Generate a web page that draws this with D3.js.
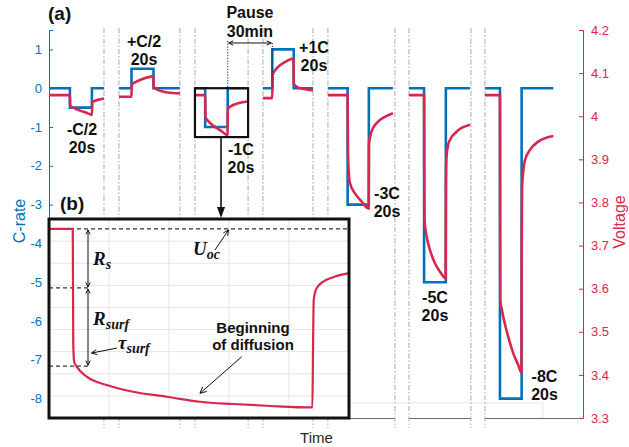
<!DOCTYPE html>
<html>
<head>
<meta charset="utf-8">
<script src="https://cdn.jsdelivr.net/npm/d3@7"></script>
<style>
  body { margin: 0; background: #fff; }
  svg { font-family: "Liberation Sans", Arial, sans-serif; }
</style>
</head>
<body>
<svg id="chart" width="629" height="447"></svg>
<script>
// ---- values ----
const cTicks = [1, 0, -1, -2, -3, -4, -5, -6, -7, -8]
const vTicks = [3.3, 3.4, 3.5, 3.6, 3.7, 3.8, 3.9, 4.0, 4.1, 4.2]

// time (s) on a broken axis, each gap is a 30 min pause
const segStart   = [0, 63.6, 132.7, 194.5, 253.6, 327.3, 396.4]
const pulseStart = [19, 75, 142, 203, 271.5, 341, 410]
const pulseEnd   = [39, 95, 162.5, 222.5, 290.8, 360.8, 429.7]
const segEnd     = [50, 119, 181, 240, 312.7, 382.7, 458.5]
const cRate      = [-0.5, 0.5, -1, 1, -3, -5, -8]
const pulseNames = ['-C/2', '+C/2', '-1C', '+1C', '-3C', '-5C', '-8C']
const breaks = [[50, 63.6], [119, 132.7], [181, 194.5], [240, 253.6], [314.5, 327.3], [383.6, 396.4]]

// voltage response per pulse
const voltTime = [
  [0, 19, 19.3, 22, 28, 34, 39, 39.3, 42, 46, 50],
  [63.6, 75, 75.3, 80, 87, 95, 95.3, 100, 108, 119],
  [132.7, 142, 142.3, 145, 150, 156, 162.3, 162.6, 166, 172, 181],
  [194.5, 203, 203.3, 206, 211, 216, 222.3, 222.6, 226, 232, 240],
  [253.6, 271.5, 271.8, 272.3, 273.6, 278.2, 284.3, 290.6, 290.9, 292.2, 294.5, 299, 305, 312.7],
  [327.3, 341, 341.15, 341.4, 343.4, 346.4, 350.9, 355.5, 360.6, 360.9, 361.4, 362.6, 364.5, 370.6, 382.7],
  [396.4, 410, 410.15, 410.3, 411.8, 413, 417.5, 422.1, 426.6, 429.5, 429.8, 430.1, 432.7, 437.3, 444.8, 458.5]
]
const voltValue = [
  [4.049, 4.049, 4.024, 4.020, 4.013, 4.008, 4.003, 4.032, 4.036, 4.039, 4.041],
  [4.045, 4.045, 4.073, 4.081, 4.088, 4.093, 4.067, 4.060, 4.055, 4.053],
  [4.049, 4.049, 3.998, 3.988, 3.977, 3.967, 3.956, 4.016, 4.024, 4.030, 4.034],
  [4.042, 4.042, 4.096, 4.108, 4.120, 4.128, 4.134, 4.075, 4.067, 4.063, 4.060],
  [4.049, 4.049, 3.93, 3.880, 3.845, 3.821, 3.802, 3.786, 3.935, 3.955, 3.972, 3.987, 3.998, 4.007],
  [4.049, 4.049, 3.90, 3.759, 3.7206, 3.6897, 3.6588, 3.6393, 3.624, 3.85, 3.905, 3.930, 3.945, 3.964, 3.980],
  [4.049, 4.049, 3.80, 3.574, 3.5505, 3.535, 3.4886, 3.450, 3.423, 3.405, 3.70, 3.836, 3.898, 3.922, 3.941, 3.954]
]

// inset (b): zoom on the -1C pulse
const insetTime = [0, 1.98, 2.02, 2.1, 2.31, 3.14, 4.81, 7.0, 9.81, 12.58, 15.33, 18.14, 21.95, 22.0, 22.06, 22.3, 22.86, 23.69, 25]
const insetVolt = [4.049, 4.049, 3.990, 3.9795, 3.9771, 3.9719, 3.9675, 3.9640, 3.9614, 3.9588, 3.9576, 3.9567, 3.9558, 3.985, 4.012, 4.018, 4.0215, 4.0238, 4.0259]
const uOc = 4.049, rsLevel = 4.0182, rsurfLevel = 3.9774

const blue = '#0072BD', red = '#D9264D'

const svg = d3.select('#chart')

const x = d3.scaleLinear().domain([0, 485.5]).range([49, 583])
const yC = d3.scaleLinear().domain([-8.5, 1.5]).range([418, 30])
const yV = d3.scaleLinear().domain([3.3, 4.2]).range([418, 30])

// faint leftover frame line
svg.append('path')
  .attr('d', `M${x(0)},${yC(-8.11)}H${x(449)}V${yC(-8.5)}`)
  .attr('fill', 'none').attr('stroke', '#e6e6e6').attr('stroke-width', 1)

// bottom axis pieces between the breaks
const pieces = []
let from = 0
breaks.forEach(b => { pieces.push([from, b[0]]); from = b[1] })
pieces.push([from, 485.5])
svg.append('g').selectAll('line').data(pieces).enter().append('line')
  .attr('x1', d => x(d[0])).attr('x2', d => x(d[1]))
  .attr('y1', 418.5).attr('y2', 418.5)
  .attr('stroke', '#6a6a6a').attr('stroke-width', 1.2)

// break markers
svg.append('g').selectAll('line').data(breaks.flat()).enter().append('line')
  .attr('x1', d => x(d)).attr('x2', d => x(d))
  .attr('y1', 28).attr('y2', 428)
  .attr('stroke', '#a8a8a8').attr('stroke-width', 1)
  .attr('stroke-dasharray', '5,2,1.5,2')

// axes
const leftAxis = svg.append('g').attr('transform', 'translate(49,0)')
  .call(d3.axisLeft(yC).tickValues(cTicks).tickSize(-4).tickPadding(7).tickFormat(d => String(d)))
leftAxis.select('.domain').attr('stroke', blue)
leftAxis.selectAll('.tick line').attr('stroke', blue)
leftAxis.selectAll('.tick text').attr('fill', blue).attr('font-size', 13)
  .attr('font-family', '"Liberation Sans", Arial, sans-serif')

const rightAxis = svg.append('g').attr('transform', 'translate(583,0)')
  .call(d3.axisRight(yV).tickValues(vTicks).tickSize(-4).tickPadding(8).tickFormat(d => String(+d.toFixed(1))))
rightAxis.select('.domain').attr('stroke', red)
rightAxis.selectAll('.tick line').attr('stroke', red)
rightAxis.selectAll('.tick text').attr('fill', red).attr('font-size', 13)
  .attr('font-family', '"Liberation Sans", Arial, sans-serif')

svg.append('text').attr('transform', 'translate(25,221) rotate(-90)')
  .attr('text-anchor', 'middle').attr('fill', blue).attr('font-size', 16).text('C-rate')
svg.append('text').attr('transform', 'translate(625,222) rotate(-90)')
  .attr('text-anchor', 'middle').attr('fill', red).attr('font-size', 16).text('Voltage')
svg.append('text').attr('x', 316.5).attr('y', 443)
  .attr('text-anchor', 'middle').attr('fill', '#262626').attr('font-size', 15).text('Time')

// C-rate steps
const cLine = d3.line().x(d => x(d[0])).y(d => yC(d[1])).curve(d3.curveStepAfter)
const cData = cRate.map((c, i) => [[segStart[i], 0], [pulseStart[i], c], [pulseEnd[i], 0], [segEnd[i], 0]])
svg.append('g').selectAll('path').data(cData).enter().append('path')
  .attr('d', cLine).attr('fill', 'none').attr('stroke', blue).attr('stroke-width', 2.6)

// voltage
const vLine = d3.line().x(d => x(d[0])).y(d => yV(d[1])).curve(d3.curveMonotoneX)
const vData = voltTime.map((ts, i) => ts.map((t, j) => [t, voltValue[i][j]]))
svg.append('g').selectAll('path').data(vData).enter().append('path')
  .attr('d', vLine).attr('fill', 'none').attr('stroke', red).attr('stroke-width', 2.6)

// arrow helpers
function openHead(g, x1, y1, x2, y2, len, w) {
  const a = Math.atan2(y2 - y1, x2 - x1), s = 0.45
  g.append('path')
    .attr('d', `M${x2 - len * Math.cos(a - s)},${y2 - len * Math.sin(a - s)}L${x2},${y2}L${x2 - len * Math.cos(a + s)},${y2 - len * Math.sin(a + s)}`)
    .attr('fill', 'none').attr('stroke', '#111').attr('stroke-width', w)
}
function arrow(x1, y1, x2, y2, both, w = 1, len = 6) {
  const g = svg.append('g')
  g.append('line').attr('x1', x1).attr('y1', y1).attr('x2', x2).attr('y2', y2)
    .attr('stroke', '#111').attr('stroke-width', w)
  openHead(g, x1, y1, x2, y2, len, w)
  if (both) openHead(g, x2, y2, x1, y1, len, w)
}

// labels of each pulse
const labelT = [30, 86.4, 174.5, 240.9, 307.3, 350.9, 450.5]
const labelC = [-1.2, 1.07, -1.72, 0.9, -2.86, -5.54, -7.56]
pulseNames.forEach((name, i) => {
  const t = svg.append('text').attr('text-anchor', 'middle').attr('font-weight', 'bold')
    .attr('font-size', 16).attr('fill', '#111')
  t.append('tspan').attr('x', x(labelT[i])).attr('y', yC(labelC[i])).text(name)
  t.append('tspan').attr('x', x(labelT[i])).attr('dy', 18).text('20s')
})

// pause marker
svg.append('g').selectAll('line').data([[pulseEnd[2], 1.22], [pulseStart[3], 1.165]]).enter().append('line')
  .attr('x1', d => x(d[0])).attr('x2', d => x(d[0]))
  .attr('y1', d => yC(d[1])).attr('y2', yC(0))
  .attr('stroke', '#222').attr('stroke-width', 1).attr('stroke-dasharray', '1.2,1.6')
arrow(x(pulseEnd[2]) + 1, yC(1.165), x(pulseStart[3]) - 1, yC(1.165), true, 1, 5)
const pause = svg.append('text').attr('text-anchor', 'middle').attr('font-weight', 'bold')
  .attr('font-size', 16).attr('fill', '#111')
pause.append('tspan').attr('x', x(182.7)).attr('y', 18).text('Pause')
pause.append('tspan').attr('x', x(182.7)).attr('y', 36.5).text('30min')

svg.append('text').attr('x', 48).attr('y', 20).attr('font-weight', 'bold')
  .attr('font-size', 19).attr('fill', '#111').text('(a)')

// zoom box on the -1C pulse and arrow to the inset
svg.append('rect')
  .attr('x', x(segStart[2])).attr('y', yC(0))
  .attr('width', x(segEnd[2]) - x(segStart[2])).attr('height', yC(-1.26) - yC(0))
  .attr('fill', 'none').attr('stroke', '#111').attr('stroke-width', 2.2)
const ax = x(156.4)
svg.append('line').attr('x1', ax).attr('x2', ax).attr('y1', yC(-1.26)).attr('y2', 210)
  .attr('stroke', '#111').attr('stroke-width', 1.6)
svg.append('path').attr('d', `M${ax - 4},207L${ax + 4},207L${ax},218Z`).attr('fill', '#111')

// ---- inset (b) ----
const xi = d3.scaleLinear().domain([0, 25]).range([49, 349])
const yi = d3.scaleLinear().domain([3.9503, 4.0542]).range([418, 219])
const gridY = d3.scaleLinear().domain([0, 9]).range([418, 219])
const inset = svg.append('g')
inset.append('rect').attr('x', 49).attr('y', 219).attr('width', 300).attr('height', 199).attr('fill', '#fff')
inset.append('g').selectAll('line').data([5, 10, 15, 20]).enter().append('line')
  .attr('x1', d => xi(d)).attr('x2', d => xi(d)).attr('y1', 219).attr('y2', 418)
  .attr('stroke', '#e4e4e4').attr('stroke-width', 1)
inset.append('g').selectAll('line').data(d3.range(1, 9)).enter().append('line')
  .attr('x1', 49).attr('x2', 349).attr('y1', d => gridY(d)).attr('y2', d => gridY(d))
  .attr('stroke', '#e4e4e4').attr('stroke-width', 1)

// dashed reference levels
inset.append('g').selectAll('line').data([[uOc, 25], [rsLevel, 3.25], [rsurfLevel, 3.25]]).enter().append('line')
  .attr('x1', xi(0)).attr('x2', d => xi(d[1])).attr('y1', d => yi(d[0])).attr('y2', d => yi(d[0]))
  .attr('stroke', '#333').attr('stroke-width', 1.2).attr('stroke-dasharray', '4,3')

inset.append('path')
  .datum(insetTime.map((t, i) => [t, insetVolt[i]]))
  .attr('d', d3.line().x(d => xi(d[0])).y(d => yi(d[1])).curve(d3.curveMonotoneX))
  .attr('fill', 'none').attr('stroke', red).attr('stroke-width', 2.2)

inset.append('rect').attr('x', 49).attr('y', 219).attr('width', 300).attr('height', 199)
  .attr('fill', 'none').attr('stroke', '#111').attr('stroke-width', 3)

// resistance arrows
arrow(xi(3.25), yi(uOc) + 1, xi(3.25), yi(rsLevel) - 1, true, 1, 5)
arrow(xi(3.25), yi(rsLevel) + 1, xi(3.25), yi(rsurfLevel) - 1, true, 1, 5)
arrow(xi(5.67), yi(3.9868), xi(3.54), yi(3.9842), false, 1, 6)
arrow(xi(13.83), yi(4.038), xi(14.96), yi(4.0485), false, 1, 6)
arrow(xi(16.06), yi(3.9823), xi(12.58), yi(3.9632), false, 1, 7)

function mathLabel(tx, v, main, sub) {
  const t = svg.append('text').attr('x', xi(tx)).attr('y', yi(v))
    .attr('font-family', '"Liberation Serif", "DejaVu Serif", serif')
    .attr('font-style', 'italic').attr('font-weight', 'bold').attr('fill', '#111').attr('font-size', 19)
  t.append('tspan').text(main)
  t.append('tspan').attr('font-size', 14).attr('dy', 4).text(sub)
}
mathLabel(3.67, 4.0302, 'R', 's')
mathLabel(3.67, 3.9988, 'R', 'surf')
mathLabel(5.75, 3.9863, 'τ', 'surf')
mathLabel(12, 4.0356, 'U', 'oc')

const diff = svg.append('text').attr('text-anchor', 'middle').attr('font-weight', 'bold')
  .attr('font-size', 15).attr('fill', '#111')
diff.append('tspan').attr('x', xi(17)).attr('y', yi(3.9947)).text('Beginning')
diff.append('tspan').attr('x', xi(17)).attr('dy', 17).text('of diffusion')

svg.append('text').attr('x', 60).attr('y', 210).attr('font-weight', 'bold')
  .attr('font-size', 19).attr('fill', '#111').text('(b)')
</script>
</body>
</html>
